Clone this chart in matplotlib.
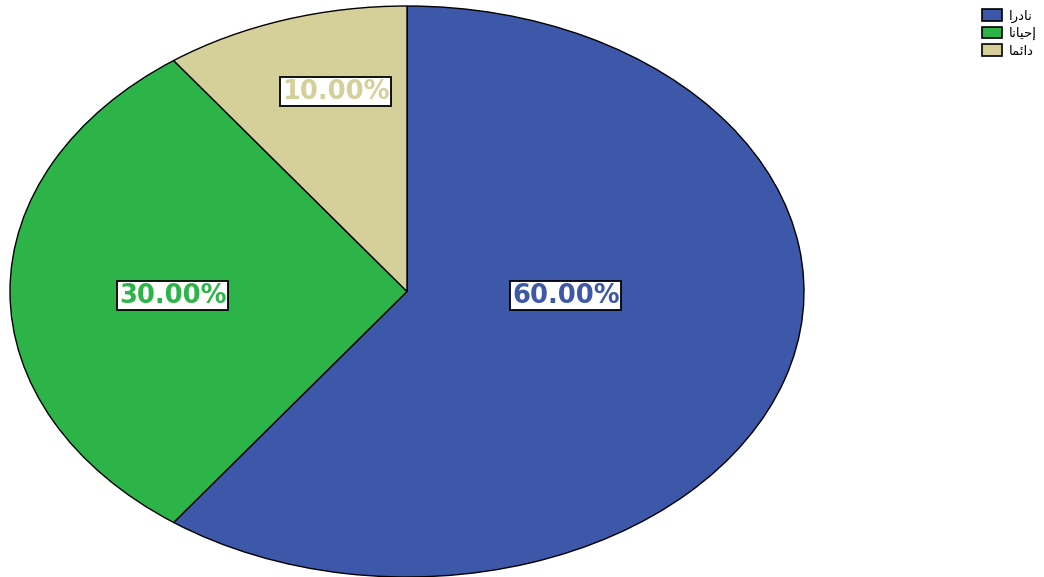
import matplotlib
matplotlib.use("Agg")
import matplotlib.pyplot as plt
from matplotlib.patches import Patch

# Data
categories = ["نادرا", "احيانا", "دائما"]
# visually-shaped (presentation forms, LTR visual order) versions for rendering
display_labels = ["\uFE8D\uFEAD\uFEA9\uFE8E\uFEE7",
                  "\uFE8E\uFEE7\uFE8E\uFEF4\uFEA3\uFE87",
                  "\uFE8E\uFEE4\uFE8B\uFE8D\uFEA9"]
values = [60.0, 30.0, 10.0]
pct_labels = ["60.00%", "30.00%", "10.00%"]
colors = ["#3D57A9", "#2DB449", "#D5CF9A"]
label_pos = [(0.40, -0.015), (-0.59, -0.015), (-0.18, 0.70)]

fig = plt.figure(figsize=(10.44, 5.77), dpi=100)
ax = fig.add_axes([10/1044, 1 - 577/577, 794/1044, 571/577])
ax.pie(values, colors=colors, startangle=90, counterclock=False,
       wedgeprops=dict(edgecolor="black", linewidth=1.0))
ax.set_aspect("auto")
ax.set_xlim(-1, 1)
ax.set_ylim(-1, 1)
ax.axis("off")

for txt, col, (x, y) in zip(pct_labels, colors, label_pos):
    ax.text(x, y, txt, color=col, fontsize=18.5, fontweight="bold",
            ha="center", va="center", fontfamily="DejaVu Sans",
            bbox=dict(boxstyle="square,pad=0.06", facecolor="white",
                      edgecolor="black", linewidth=1.3))

handles = [Patch(facecolor=c, edgecolor="black", linewidth=1.2) for c in colors]
leg = fig.legend(handles, display_labels, loc="upper right",
                 bbox_to_anchor=(1048/1044, 1.005), frameon=False,
                 prop={"family": "DejaVu Sans", "size": 9.5},
                 handlelength=1.55, handleheight=1.0, handletextpad=0.45,
                 labelspacing=0.3)

fig.savefig("out.png", dpi=100)
